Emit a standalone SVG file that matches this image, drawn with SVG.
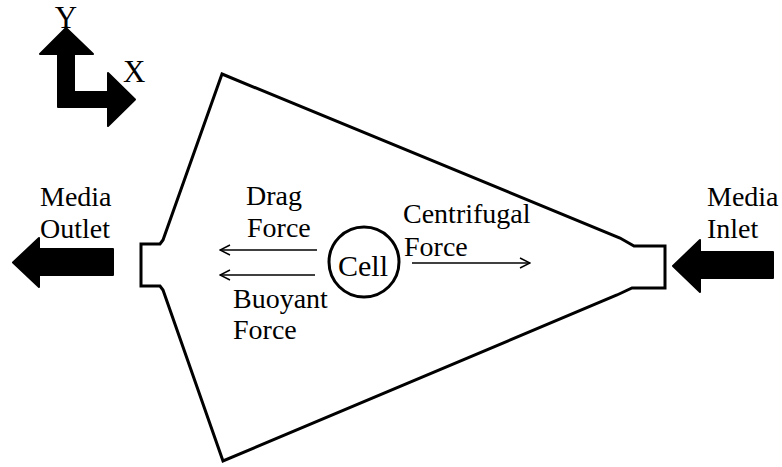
<svg xmlns="http://www.w3.org/2000/svg" width="782" height="467" viewBox="0 0 782 467">
<style>
text{font-family:'Liberation Serif','Times New Roman',Times,Tinos,'Nimbus Roman','Nimbus Roman No9 L','Noto Serif','DejaVu Serif',FreeSerif,serif;font-size:28px;fill:#000}
.big{font-size:31px}
.outline{fill:none;stroke:#000;stroke-width:3;stroke-linejoin:miter}
.force{fill:none;stroke:#000;stroke-width:1.4}
.solid{fill:#000;stroke:#000;stroke-width:2;stroke-linejoin:round}
</style>
<defs>
<marker id="open" viewBox="0 0 12 12" refX="11" refY="6" markerWidth="12" markerHeight="12" markerUnits="userSpaceOnUse" orient="auto">
<path d="M1,1 L11,6 L1,11" fill="none" stroke="#000" stroke-width="1.4"/>
</marker>
</defs>
<rect width="782" height="467" fill="#fff"/>
<g id="axes">
<polygon class="solid" points="66,28 93,54 74,54 74,92 108,92 108,73 135,99.5 108,126 108,107 58,107 58,54 40,54"/>
<text class="big" x="66" y="28" text-anchor="middle">Y</text>
<text class="big" x="123" y="82">X</text>
</g>
<g id="chamber">
<polygon class="outline" points="222,74 620,238 634,246 665,246 665,288 632,288 617,295 223,461 163,290 160,286 141,286 141,244 160,244 163,240"/>
</g>
<g id="outlet">
<polygon class="solid" points="13,262.5 39,238 39,249 113,249 113,275 39,275 39,287"/>
<text x="40" y="206">Media</text>
<text x="40" y="238">Outlet</text>
</g>
<g id="inlet">
<polygon class="solid" points="673,266 700,240 700,252 773,252 773,278 700,278 700,292"/>
<text x="707" y="206">Media</text>
<text x="707" y="238">Inlet</text>
</g>
<g id="cell">
<circle cx="364" cy="262" r="35" fill="none" stroke="#000" stroke-width="3"/>
<text x="363" y="276" text-anchor="middle" style="font-size:30px">Cell</text>
</g>
<g id="connectors">
<line class="force" x1="317" y1="250" x2="220" y2="250" marker-end="url(#open)"/>
<line class="force" x1="315" y1="275" x2="220" y2="275" marker-end="url(#open)"/>
<line class="force" x1="412" y1="263" x2="530" y2="263" marker-end="url(#open)"/>
</g>
<g id="labels">
<text x="246" y="205">Drag</text>
<text x="247" y="237">Force</text>
<text x="403" y="223">Centrifugal</text>
<text x="404" y="256">Force</text>
<text x="233" y="308">Buoyant</text>
<text x="233" y="339">Force</text>
</g>
</svg>
